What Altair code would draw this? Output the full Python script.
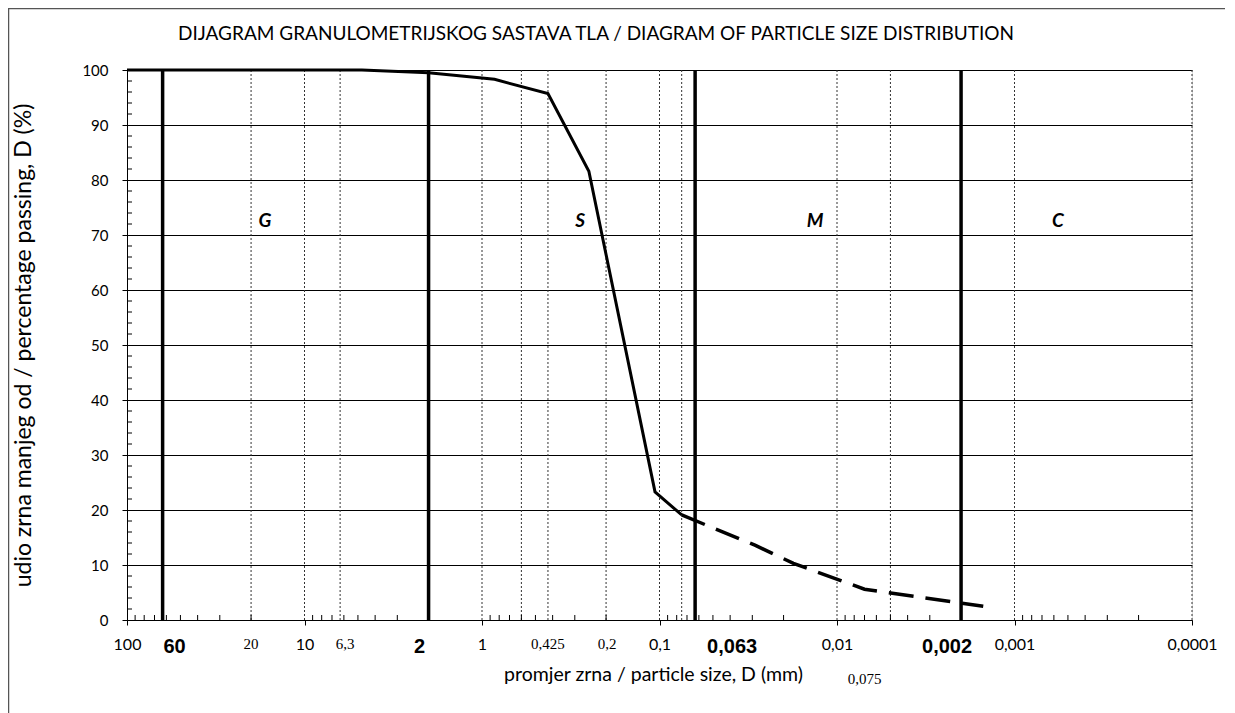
import altair as alt
import pandas as pd

# ---------------- data ----------------
sieve_size = [100, 75, 37.5, 19, 9.5, 4.75, 2, 0.85, 0.425, 0.25, 0.106, 0.075]
sieve_pass = [100, 100, 100, 100, 100, 100, 99.5, 98.3, 95.7, 81.6, 23.3, 19.1]

hydro_size = [0.075, 0.029, 0.0176, 0.007, 0.0015]
hydro_pass = [19.1, 13.6, 10.3, 5.6, 2.5]

boundary_sizes = [63, 2, 0.063, 0.002]
boundary_labels = ["60", "2", "0,063", "0,002"]

dotted_sizes = [20, 10, 6.3, 1, 0.6, 0.425, 0.2, 0.1, 0.075, 0.01, 0.005, 0.001, 0.0001]

decade_ticks = [100, 10, 1, 0.1, 0.01, 0.001, 0.0001]
y_ticks = [0, 10, 20, 30, 40, 50, 60, 70, 80, 90, 100]
y_minor = [v for v in range(2, 100, 2) if v % 10 != 0]
x_minor = [k * 10.0 ** n for n in range(-4, 2) for k in range(2, 10)]

serif_sizes = [20, 6.3, 0.425, 0.2]
serif_labels = ["20", "6,3", "0,425", "0,2"]
extra_size = 0.075
extra_label = "0,075"

region_letters = ["G", "S", "M", "C"]
region_x = [16.7, 0.28, 0.0133, 0.00057]
region_y = [72.6, 72.6, 72.6, 72.6]

title_text = "DIJAGRAM GRANULOMETRIJSKOG SASTAVA TLA / DIAGRAM OF PARTICLE SIZE DISTRIBUTION"
x_title = "promjer zrna / particle size, D (mm)"
y_title = "udio zrna manjeg od / percentage passing, D (%)"

# ---------------- tables ----------------
sieve_df = pd.DataFrame({"size": sieve_size, "pass": sieve_pass})
hydro_df = pd.DataFrame({"size": hydro_size, "pass": hydro_pass})
bound_df = pd.DataFrame({"size": boundary_sizes, "label": boundary_labels})
dot_df = pd.DataFrame({"size": dotted_sizes})
xminor_df = pd.DataFrame({"size": x_minor})
yminor_df = pd.DataFrame({"pass": y_minor})
region_df = pd.DataFrame({"size": region_x, "pass": region_y, "label": region_letters})

W, H = 1065, 550
FONT = "Lato"

xscale = alt.Scale(type="log", domain=[0.0001, 100], reverse=True, nice=False)
yscale = alt.Scale(domain=[0, 100], nice=False)

x_axis = alt.Axis(
    values=decade_ticks,
    labelExpr="datum.value >= 1 ? format(datum.value, 'd') : replace(format(datum.value, '~f'), '.', ',')",
    grid=False, tickSize=5, tickColor="black", domainColor="black",
    labelFont=FONT, labelFontSize=16, labelColor="black", labelPadding=11,
    labelFlush=False, labelOverlap=False,
    title=x_title, titleFont=FONT, titleFontSize=19.5, titleFontWeight="normal",
    titleColor="black", titleX=526, titleY=54, titleBaseline="middle",
)
y_axis = alt.Axis(
    values=y_ticks, grid=True, gridColor="black", gridWidth=1, gridOpacity=1,
    tickSize=5, tickColor="black", domainColor="black",
    labelFont=FONT, labelFontSize=15, labelColor="black", labelPadding=14,
    title=y_title, titleFont=FONT, titleFontSize=23, titleFontWeight="normal",
    titleColor="black", titleX=-104, titleY=275, titleAngle=-90,
    titleBaseline="middle", titleAlign="center",
)

X = alt.X("size:Q", scale=xscale, axis=x_axis)
Y = alt.Y("pass:Q", scale=yscale, axis=y_axis)

base_grid = alt.Chart(sieve_df).mark_line(opacity=0).encode(x=X, y=Y)

dotted = alt.Chart(dot_df).mark_rule(color="#333333", strokeWidth=1, strokeDash=[2, 2]).encode(x=X)

xminor = alt.Chart(xminor_df).mark_rule(color="black", strokeWidth=1).encode(
    x=X, y=alt.value(H), y2=alt.value(H - 5),
)
yminor = alt.Chart(yminor_df).mark_rule(color="black", strokeWidth=1).encode(
    y=Y, x=alt.value(0), x2=alt.value(5),
)

thick = alt.Chart(bound_df).mark_rule(color="black", strokeWidth=3.5).encode(x=X)

sieve_line = alt.Chart(sieve_df).mark_line(color="black", strokeWidth=3).encode(x=X, y=Y)
hydro_line = alt.Chart(hydro_df).mark_line(color="black", strokeWidth=3.5, strokeDash=[25, 12]).encode(x=X, y=Y)

letters = alt.Chart(region_df).mark_text(
    font=FONT, fontSize=19, fontWeight="bold", fontStyle="italic", color="black", baseline="middle"
).encode(x=X, y=Y, text="label:N")

# bold boundary labels under the axis
bold_dx = [12, -9, 37, -14]
bold_layers = []
for i in range(len(boundary_sizes)):
    d = pd.DataFrame({"size": [boundary_sizes[i]], "label": [boundary_labels[i]]})
    bold_layers.append(
        alt.Chart(d).mark_text(
            font="Liberation Sans", fontSize=20, fontWeight="bold", color="black",
            baseline="middle", dx=bold_dx[i],
        ).encode(x=X, y=alt.value(H + 27), text="label:N")
    )

serif_dx = [0, 5, 0, 1]
serif_layers = []
for i in range(len(serif_sizes)):
    d = pd.DataFrame({"size": [serif_sizes[i]], "label": [serif_labels[i]]})
    serif_layers.append(
        alt.Chart(d).mark_text(
            font="Liberation Serif", fontSize=15, color="black", baseline="middle", dx=serif_dx[i],
        ).encode(x=X, y=alt.value(H + 24), text="label:N")
    )
extra = alt.Chart(pd.DataFrame({"size": [extra_size], "label": [extra_label]})).mark_text(
    font="Liberation Serif", fontSize=15, color="black", baseline="middle", dx=183,
).encode(x=X, y=alt.value(H + 59), text="label:N")

title = alt.Chart(pd.DataFrame({"t": [title_text]})).mark_text(
    font=FONT, fontSize=19, color="black", baseline="middle", align="center"
).encode(x=alt.value(469), y=alt.value(-36), text="t:N")

frame_left = alt.Chart(pd.DataFrame({"a": [0]})).mark_rule(color="#555555", strokeWidth=1.5).encode(
    x=alt.value(-118.5), y=alt.value(-61.5), y2=alt.value(H + 93)
)
frame_top = alt.Chart(pd.DataFrame({"a": [0]})).mark_rule(color="#555555", strokeWidth=1.5).encode(
    x=alt.value(-119), x2=alt.value(1098), y=alt.value(-61.5)
)

chart = alt.layer(
    base_grid, dotted, xminor, yminor, thick, sieve_line, hydro_line, letters,
    *bold_layers, *serif_layers, extra, title, frame_left, frame_top,
).properties(
    width=W, height=H,
    padding={"left": 119, "top": 62, "right": 35, "bottom": 93},
    autosize="none",
).configure_view(stroke=None).configure(background="white")

chart.save("out.html", embed_options={"renderer": "svg", "actions": False})
